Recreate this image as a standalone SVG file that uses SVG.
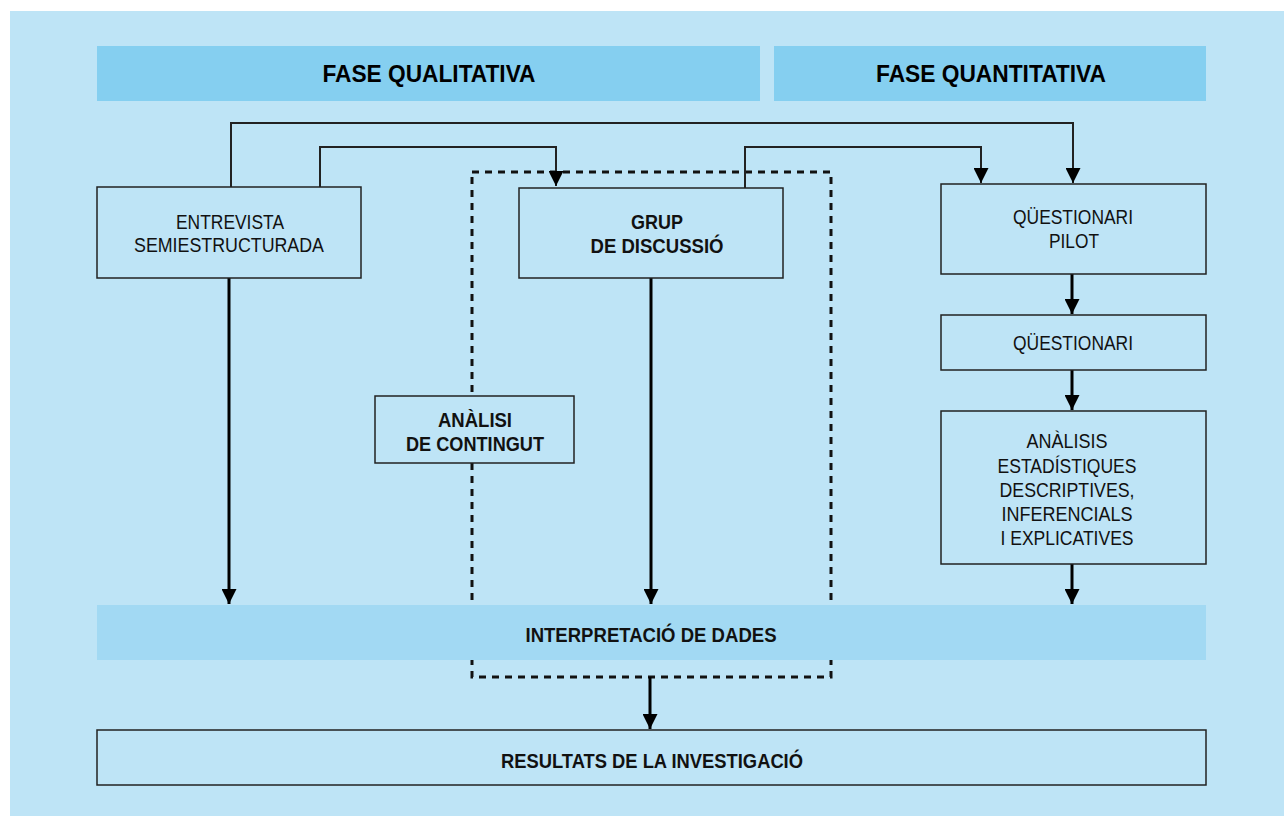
<svg xmlns="http://www.w3.org/2000/svg" width="1284" height="816" viewBox="0 0 1284 816">
<defs>
<marker id="arr" viewBox="0 0 10 10" refX="10" refY="5" markerWidth="15" markerHeight="15" markerUnits="userSpaceOnUse" orient="auto">
<path d="M0,0 L10,5 L0,10 z" fill="#000"/>
</marker>
<style>
.t{font-family:"Liberation Sans",Arial,sans-serif;font-size:20px;fill:#111;text-anchor:middle}
.b{font-weight:bold}
.h{font-family:"Liberation Sans",Arial,sans-serif;font-size:24px;font-weight:bold;fill:#000;text-anchor:middle}
.box{fill:#BEE4F6;stroke:#222;stroke-width:1.5}
.a{fill:none;stroke:#000;stroke-width:3;marker-end:url(#arr)}
.as{fill:none;stroke:#222;stroke-width:2;marker-end:url(#arr)}
</style>
</defs>
<rect x="10" y="11" width="1274" height="805" fill="#BEE4F6"/>
<g id="header-qualitativa">
<rect x="97" y="46" width="663" height="55" fill="#85CFF0"/>
<text class="h" x="429" y="82" textLength="213" lengthAdjust="spacingAndGlyphs">FASE QUALITATIVA</text>
</g>
<g id="header-quantitativa">
<rect x="774" y="46" width="432" height="55" fill="#85CFF0"/>
<text class="h" x="991" y="82" textLength="230" lengthAdjust="spacingAndGlyphs">FASE QUANTITATIVA</text>
</g>
<g id="dashed-group">
<rect x="472" y="172" width="359" height="505" fill="none" stroke="#111" stroke-width="3" stroke-dasharray="7,6"/>
</g>
<g id="connectors">
<path class="as" d="M231,187 V123 H1073 V183"/>
<path class="as" d="M320,187 V147 H556 V186"/>
<path class="as" d="M745,188 V147 H981 V183"/>
<path class="a" d="M229,278 V604"/>
<path class="a" d="M651,278 V604"/>
<path class="a" d="M1072,274 V314"/>
<path class="a" d="M1072,370 V410"/>
<path class="a" d="M1072,564 V604"/>
<path class="a" d="M650,677 V729"/>
</g>
<g id="interpretacio">
<rect x="97" y="605" width="1109" height="55" fill="#A2D9F3"/>
<text class="t b" x="651" y="642" textLength="251" lengthAdjust="spacingAndGlyphs">INTERPRETACIÓ DE DADES</text>
</g>
<g id="entrevista">
<rect class="box" x="97" y="187" width="264" height="91"/>
<text class="t" x="230" y="229" textLength="108" lengthAdjust="spacingAndGlyphs">ENTREVISTA</text>
<text class="t" x="229" y="252" textLength="190" lengthAdjust="spacingAndGlyphs">SEMIESTRUCTURADA</text>
</g>
<g id="grup">
<rect class="box" x="519" y="188" width="264" height="90"/>
<text class="t b" x="657" y="229" textLength="52" lengthAdjust="spacingAndGlyphs">GRUP</text>
<text class="t b" x="657" y="253" textLength="133" lengthAdjust="spacingAndGlyphs">DE DISCUSSIÓ</text>
</g>
<g id="analisi-contingut">
<rect class="box" x="375" y="396" width="199" height="67"/>
<text class="t b" x="475" y="427" textLength="74" lengthAdjust="spacingAndGlyphs">ANÀLISI</text>
<text class="t b" x="475" y="451" textLength="138" lengthAdjust="spacingAndGlyphs">DE CONTINGUT</text>
</g>
<g id="questionari-pilot">
<rect class="box" x="941" y="184" width="265" height="90"/>
<text class="t" x="1073" y="224" textLength="120" lengthAdjust="spacingAndGlyphs">QÜESTIONARI</text>
<text class="t" x="1074" y="248" textLength="50" lengthAdjust="spacingAndGlyphs">PILOT</text>
</g>
<g id="questionari">
<rect class="box" x="941" y="315" width="265" height="55"/>
<text class="t" x="1073" y="350" textLength="120" lengthAdjust="spacingAndGlyphs">QÜESTIONARI</text>
</g>
<g id="analisis-estadistiques">
<rect class="box" x="941" y="411" width="265" height="153"/>
<text class="t" x="1067" y="448" textLength="81" lengthAdjust="spacingAndGlyphs">ANÀLISIS</text>
<text class="t" x="1067" y="473" textLength="139" lengthAdjust="spacingAndGlyphs">ESTADÍSTIQUES</text>
<text class="t" x="1067" y="497" textLength="135" lengthAdjust="spacingAndGlyphs">DESCRIPTIVES,</text>
<text class="t" x="1067" y="521" textLength="131" lengthAdjust="spacingAndGlyphs">INFERENCIALS</text>
<text class="t" x="1067" y="545" textLength="133" lengthAdjust="spacingAndGlyphs">I EXPLICATIVES</text>
</g>
<g id="resultats">
<rect class="box" x="97" y="730" width="1109" height="55"/>
<text class="t b" x="652" y="768" textLength="302" lengthAdjust="spacingAndGlyphs">RESULTATS DE LA INVESTIGACIÓ</text>
</g>
</svg>
